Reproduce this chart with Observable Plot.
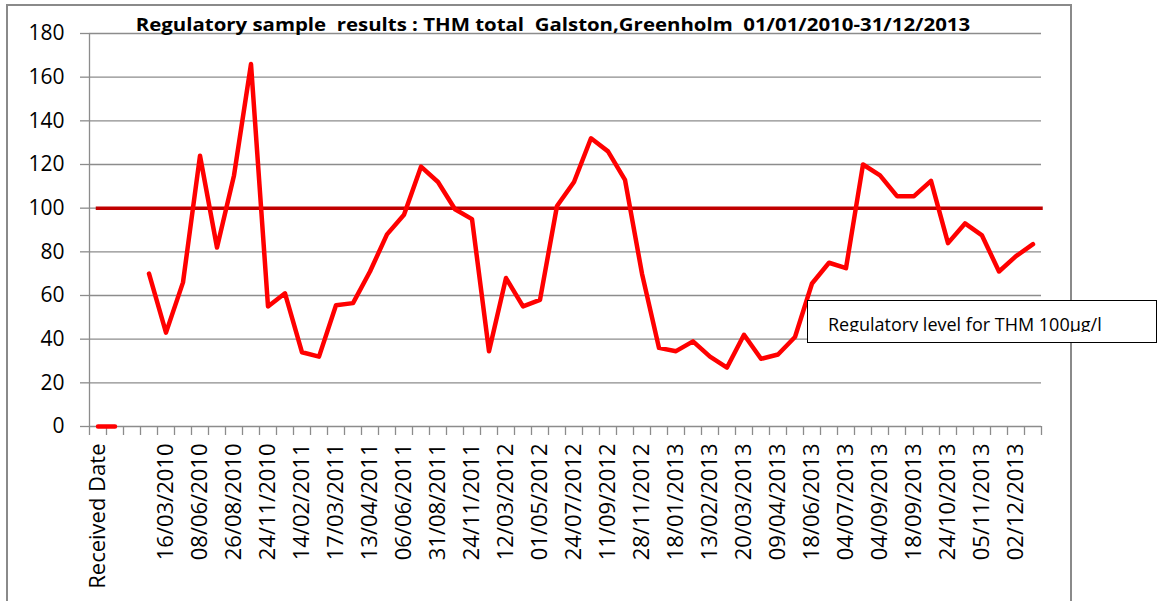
<!DOCTYPE html>
<html><head><meta charset="utf-8">
<script src="https://cdn.jsdelivr.net/npm/d3@7"></script>
<script src="https://cdn.jsdelivr.net/npm/@observablehq/plot@0.6"></script>
<style>
html,body{margin:0;padding:0;background:#fff;overflow:hidden;width:1159px;height:601px;}
#wrap{position:relative;width:1159px;height:601px;font-family:"Open Sans",sans-serif;}
#frame{position:absolute;left:6px;top:4px;width:1062px;height:640px;border:2px solid #8a8a8a;}
#chart{position:absolute;left:0;top:0;}
#title{position:absolute;left:0;width:1106px;top:16px;text-align:center;font-weight:bold;font-size:17px;line-height:17px;white-space:pre;color:#000;transform:scaleX(1.2);transform-origin:553px 0;}
#note{position:absolute;left:807px;top:300px;width:350px;height:43px;box-sizing:border-box;border:1.5px solid #000;background:#fff;}
#noteclip{position:absolute;left:20px;top:0;width:320px;height:30.5px;overflow:hidden;}
#notetext{position:absolute;left:0;top:14px;font-size:18px;line-height:18px;white-space:nowrap;color:#000;}
</style></head><body>
<div id="wrap"><div id="frame"></div><div id="chart"></div><div id="title"></div><div id="note"><div id="noteclip"><div id="notetext"></div></div></div></div>
<script>
const titleText = "Regulatory sample  results : THM total  Galston,Greenholm  01/01/2010-31/12/2013";
const noteText = "Regulatory level for THM 100\u00b5g/l";
const regulatoryLevel = 100;
const yTicks = [0, 20, 40, 60, 80, 100, 120, 140, 160, 180];
// labels shown on every second category
const tickLabels = ["Received Date", "", "16/03/2010", "08/06/2010", "26/08/2010", "24/11/2010",
  "14/02/2011", "17/03/2011", "13/04/2011", "06/06/2011", "31/08/2011", "24/11/2011",
  "12/03/2012", "01/05/2012", "24/07/2012", "11/09/2012", "28/11/2012",
  "18/01/2013", "13/02/2013", "20/03/2013", "09/04/2013", "18/06/2013", "04/07/2013",
  "04/09/2013", "18/09/2013", "24/10/2013", "05/11/2013", "02/12/2013"];
// THM total (µg/l), one value per category
const values = [0, 0, null, 70, 43, 66, 124, 82, 115, 166, 55, 61, 34, 32, 55.5, 56.5, 71, 88, 97, 119,
  112, 99.5, 95, 34.5, 68, 55, 58, 101, 112, 132, 126, 113, 70, 36, 34.5, 39, 32, 27, 42, 31,
  33, 41, 65.5, 75, 72.5, 120, 115, 105.5, 105.5, 112.5, 84, 93, 87.5, 71, 78, 83.5];

document.getElementById("title").textContent = titleText;
document.getElementById("notetext").textContent = noteText;

const n = values.length;
const data = values.map((v, i) => ({i, v}));
const grey = "#8c8c8c";
const chart = Plot.plot({
  width: 1159, height: 601,
  marginLeft: 89, marginRight: 118, marginTop: 33, marginBottom: 175,
  style: {fontFamily: '"Open Sans", sans-serif', background: "transparent", overflow: "visible"},
  x: {type: "linear", domain: [-0.5, n - 0.5], label: null},
  y: {domain: [0, 180], label: null},
  marks: [
    Plot.gridY(yTicks.slice(1), {stroke: grey, strokeOpacity: 1, strokeWidth: 1.3}),
    Plot.ruleX([-0.5], {stroke: grey, strokeWidth: 1.3}),
    Plot.ruleY([0], {stroke: grey, strokeWidth: 1.3}),
    Plot.axisY({ticks: yTicks, tickSize: 9, tickPadding: 16, stroke: grey, strokeWidth: 1.3, fill: "#000", fontSize: 21, label: null}),
    Plot.axisX({ticks: d3.range(-0.5, n, 1), tickSize: 9, tickFormat: () => "", stroke: grey, strokeWidth: 1.3, label: null}),
    Plot.axisX({ticks: d3.range(0, n, 2), tickSize: 0, tickPadding: 17, tickRotate: -90,
      tickFormat: i => tickLabels[i / 2], fontSize: 22, fill: "#000", label: null}),
    Plot.ruleY([regulatoryLevel], {x1: 0, x2: n - 0.5, stroke: "#C00000", strokeWidth: 3.5, strokeLinecap: "square"}),
    Plot.line(data, {x: "i", y: "v", stroke: "#FF0000", strokeWidth: 4.5, strokeLinejoin: "round", strokeLinecap: "round"})
  ]
});
document.getElementById("chart").appendChild(chart);
</script>
</body></html>
